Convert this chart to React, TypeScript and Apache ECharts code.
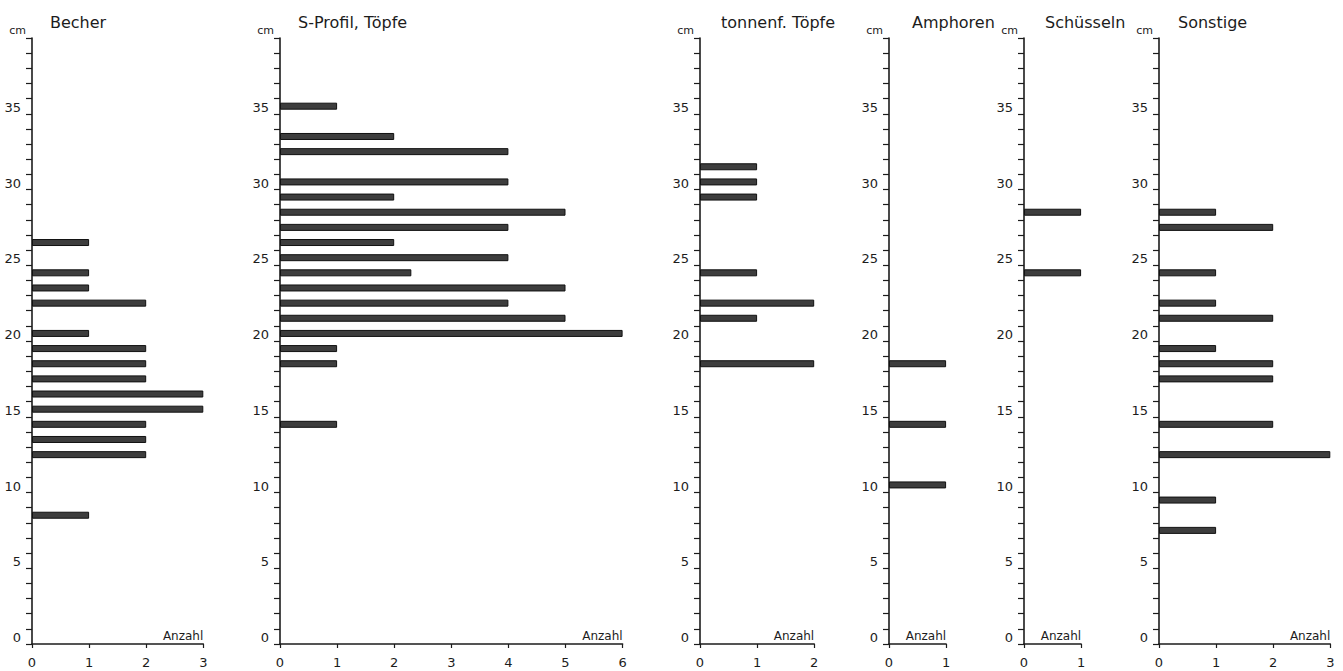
import React, { useEffect, useRef } from "react";
import * as echarts from "echarts";

// depth bins (cm, bin centre) and counts per vessel type
const becherCm = [26.5, 24.5, 23.5, 22.5, 20.5, 19.5, 18.5, 17.5, 16.5, 15.5, 14.5, 13.5, 12.5, 8.5];
const becherCount = [1, 1, 1, 2, 1, 2, 2, 2, 3, 3, 2, 2, 2, 1];

const sProfilCm = [35.5, 33.5, 32.5, 30.5, 29.5, 28.5, 27.5, 26.5, 25.5, 24.5, 23.5, 22.5, 21.5, 20.5, 19.5, 18.5, 14.5];
const sProfilCount = [1, 2, 4, 4, 2, 5, 4, 2, 4, 2.3, 5, 4, 5, 6, 1, 1, 1];

const tonnenCm = [31.5, 30.5, 29.5, 24.5, 22.5, 21.5, 18.5];
const tonnenCount = [1, 1, 1, 1, 2, 1, 2];

const amphorenCm = [18.5, 14.5, 10.5];
const amphorenCount = [1, 1, 1];

const schuesselnCm = [28.5, 24.5];
const schuesselnCount = [1, 1];

const sonstigeCm = [28.5, 27.5, 24.5, 22.5, 21.5, 19.5, 18.5, 17.5, 14.5, 12.5, 9.5, 7.5];
const sonstigeCount = [1, 2, 1, 1, 2, 1, 2, 2, 2, 3, 1, 1];

const titles = ["Becher", "S-Profil, Töpfe", "tonnenf. Töpfe", "Amphoren", "Schüsseln", "Sonstige"];
const xMaxes = [3, 6, 2, 1, 1, 3];
const Y_MAX = 40;
const yTickLabels = [0, 5, 10, 15, 20, 25, 30, 35];

// layout (pixels)
const axisLeft = [32, 280, 700, 889, 1024, 1159];
const titleLeft = [50, 298, 721, 912, 1045, 1178];
const UNIT = 57.1;
const GRID_TOP = 38;
const GRID_BOTTOM = 27;

const FONT = "DejaVu Sans";
const INK = "#1c1c1c";

export default function App() {
  const ref = useRef<HTMLDivElement>(null);
  useEffect(() => {
    if (!ref.current) return;
    const chart = echarts.init(ref.current, undefined, { renderer: "svg" });
    const cms = [becherCm, sProfilCm, tonnenCm, amphorenCm, schuesselnCm, sonstigeCm];
    const counts = [becherCount, sProfilCount, tonnenCount, amphorenCount, schuesselnCount, sonstigeCount];
    const cats = Array.from({ length: Y_MAX }, (_, i) => String(i + 0.5));

    const grid: any[] = [];
    const xAxis: any[] = [];
    const yAxis: any[] = [];
    const series: any[] = [];
    const title: any[] = [];

    titles.forEach((t, p) => {
      grid.push({
        left: axisLeft[p],
        top: GRID_TOP,
        bottom: GRID_BOTTOM,
        width: xMaxes[p] * UNIT,
        containLabel: false,
      });
      title.push({
        text: t,
        left: titleLeft[p],
        top: 14,
        padding: 0,
        textStyle: { fontFamily: FONT, fontSize: 16, fontWeight: "normal", color: INK },
      });
      xAxis.push({
        type: "value",
        gridIndex: p,
        min: 0,
        max: xMaxes[p],
        interval: 1,
        position: "bottom",
        name: "Anzahl",
        nameLocation: "end",
        nameGap: 0,
        nameTextStyle: {
          fontFamily: FONT,
          fontSize: 12,
          color: INK,
          align: "right",
          verticalAlign: "bottom",
          padding: [0, 0, 2, 0],
        },
        axisLine: { show: true, onZero: false, lineStyle: { color: INK, width: 1.6 } },
        axisTick: { show: true, length: 4, lineStyle: { color: INK, width: 1.2 } },
        axisLabel: { fontFamily: FONT, fontSize: 13, color: INK, margin: 12 },
        splitLine: { show: false },
      });
      yAxis.push({
        type: "value",
        gridIndex: p,
        min: 0,
        max: Y_MAX,
        interval: 1,
        position: "left",
        name: "cm",
        nameLocation: "end",
        nameGap: 2,
        nameTextStyle: {
          fontFamily: FONT,
          fontSize: 11,
          color: INK,
          align: "right",
          verticalAlign: "bottom",
          padding: [0, 6, 0, 0],
        },
        axisLine: { show: true, onZero: false, lineStyle: { color: INK, width: 1.6 } },
        axisTick: { show: true, length: 6, lineStyle: { color: INK, width: 1.2 } },
        axisLabel: {
          fontFamily: FONT,
          fontSize: 13,
          color: INK,
          margin: 11,
          verticalAlign: "bottom",
          showMaxLabel: true,
          showMinLabel: true,
          formatter: (v: number) => (yTickLabels.includes(v) ? String(v) : ""),
        },
        splitLine: { show: false },
      });
      const catIndex = yAxis.length;
      yAxis.push({
        type: "category",
        gridIndex: p,
        data: cats,
        show: false,
        boundaryGap: true,
      });
      series.push({
        type: "bar",
        xAxisIndex: p,
        yAxisIndex: catIndex,
        barWidth: 7,
        data: cms[p].map((c, i) => [counts[p][i], String(c)]),
        itemStyle: { color: "#3d3d3d", borderColor: "#111", borderWidth: 1 },
        silent: true,
      });
    });

    chart.setOption({
      animation: false,
      backgroundColor: "#ffffff",
      title,
      grid,
      xAxis,
      yAxis,
      series,
    });
    return () => chart.dispose();
  }, []);

  return (
    <div
      ref={ref}
      style={{ position: "fixed", left: 0, top: 0, width: 1343, height: 671, background: "#fff" }}
    />
  );
}
